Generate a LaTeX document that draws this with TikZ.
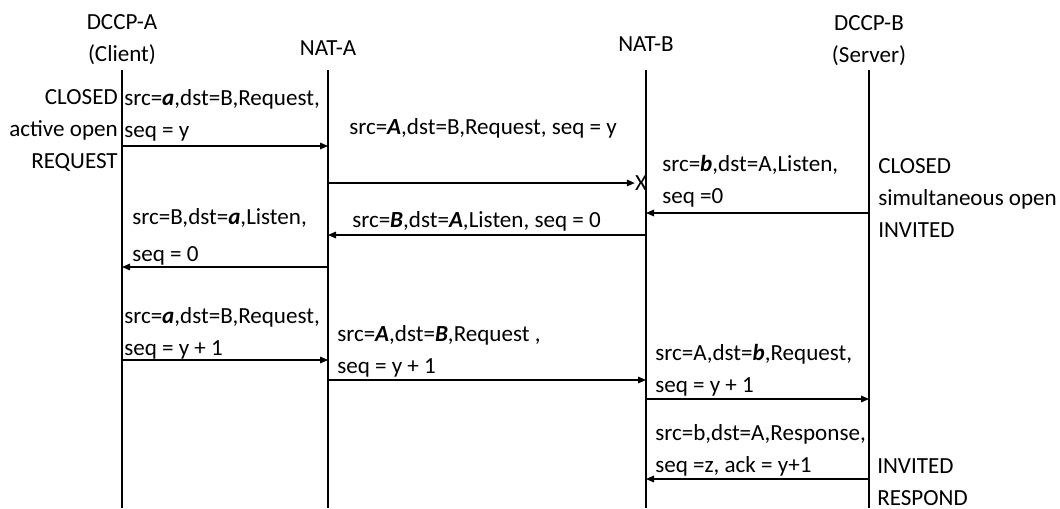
\documentclass[tikz,border=0pt]{standalone}
\usepackage{fontspec}
\setmainfont{Carlito}
\usepackage{tikz}
\usetikzlibrary{arrows.meta}
\tikzstyle{lifeline}=[draw,line width=0.8pt]
\tikzstyle{msg}=[draw,line width=0.8pt,-{Triangle[length=6pt,width=5pt]}]
\tikzstyle{head}=[inner sep=0,align=center]
\tikzstyle{lbl}=[anchor=west,inner sep=0,align=left]
\tikzstyle{lstate}=[anchor=east,inner sep=0,align=right]
\tikzstyle{rstate}=[anchor=west,inner sep=0,align=left]
\newcommand{\bi}[1]{\textbf{\textit{#1}}}
\newcommand{\entity}[4]{\node[head] (#1) at (#2,#3) {#4};\coordinate (#1t) at (#2,70);\coordinate (#1b) at (#2,508);\draw[lifeline] (#1t) -- (#1b);}
\newcommand{\msg}[4]{\coordinate (#1s) at (#2t |- 0,#4);\coordinate (#1e) at (#3t |- 0,#4);\draw[msg] (#1s) -- (#1e);}

\begin{document}
\begin{tikzpicture}[x=0.75pt,y=-0.75pt,every node/.style={font=\fontsize{17.3}{24}\selectfont}]
  \useasboundingbox (0,0) rectangle (1060,509);

  \entity{ca}{122}{39.5}{DCCP-A\\(Client)};
  \entity{na}{328}{48}{NAT-A};
  \entity{nb}{646}{44}{NAT-B};
  \entity{cb}{869}{40.5}{DCCP-B\\(Server)};

  % states
  \node[lstate] (sa1) at (118,131) {CLOSED\\active open\\REQUEST};
  \node[rstate] (sb1) at (878,198) {CLOSED\\simultaneous open\\INVITED};
  \node[rstate] (sb2) at (877,482) {INVITED\\RESPOND};

  % first attempt, lost at NAT-B
  \msg{m1}{ca}{na}{146};
  \node[lbl] (l1) at (124,115.5) {src=\bi{a},dst=B,Request,\\seq = y};
  \node[inner sep=0] (x) at (641,183) {X};
  \coordinate (m2s) at (nat |- x);
  \draw[msg] (m2s) -- (x.west);
  \node[lbl] (l2) at (349,128) {src=\bi{A},dst=B,Request, seq = y};

  \msg{m3}{cb}{nb}{213};
  \node[lbl] (l3) at (662,181) {src=\bi{b},dst=A,Listen,\\seq =0};
  \msg{m4}{nb}{na}{235};
  \node[lbl] (l4) at (352,221) {src=\bi{B},dst=\bi{A},Listen, seq = 0};
  \msg{m5}{na}{ca}{267};
  \node[lbl] (l5) at (132,237) {src=B,dst=\bi{a},Listen,\\[4pt]seq = 0};

  % second attempt
  \msg{m6}{ca}{na}{360};
  \node[lbl] (l6) at (124,333) {src=\bi{a},dst=B,Request,\\seq = y + 1};
  \msg{m7}{na}{nb}{380};
  \node[lbl] (l7) at (337,351.5) {src=\bi{A},dst=\bi{B},Request ,\\seq = y + 1};
  \msg{m8}{nb}{cb}{399};
  \node[lbl] (l8) at (655,370) {src=A,dst=\bi{b},Request,\\seq = y + 1};
  \msg{m9}{cb}{nb}{479};
  \node[lbl] (l9) at (655,450.5) {src=b,dst=A,Response,\\seq =z, ack = y+1};
\end{tikzpicture}
\end{document}
